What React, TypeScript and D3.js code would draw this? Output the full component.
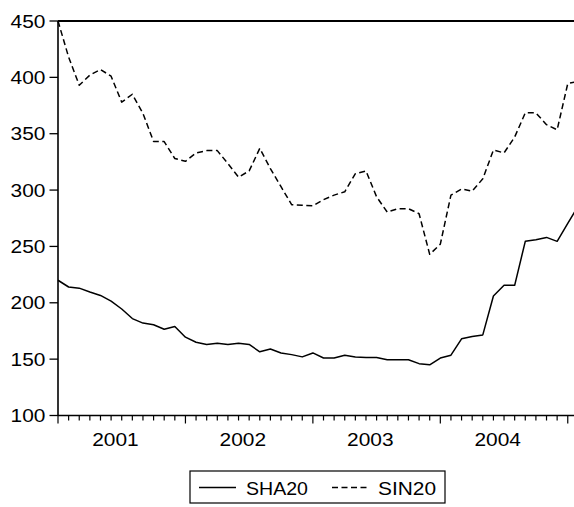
import React from "react";
import * as d3 from "d3";

const YEAR_LABELS = ["2001", "2002", "2003", "2004"];
const Y_TICKS = [100, 150, 200, 250, 300, 350, 400, 450];

// Monthly observations starting 2001M01
const SHA20 = [
  220, 214, 213, 209.5, 206.5, 201.5, 194.5, 186, 182, 180.5, 176.5, 179,
  169.5, 165, 163, 164, 163, 164, 163, 156.5, 159, 155.5, 154, 152,
  155.5, 151, 151, 153.5, 152, 151.5, 151.5, 149.5, 149.5, 149.5, 146, 145,
  151, 153.5, 168, 170, 171.5, 206, 215.5, 215.5, 254.5, 256, 258, 254.5,
  270.5, 286,
];
const SIN20 = [
  450, 418, 393, 402, 407, 401, 378, 385, 368, 343, 343, 328,
  325.5, 333, 335, 335, 323.5, 311.5, 317, 337, 319, 303, 287, 286.5,
  286, 291.5, 295.5, 298.5, 314.5, 317, 294, 280.5, 283.5, 283.5, 279, 243,
  252, 295.5, 301, 299, 310, 335.5, 333, 347, 368.5, 368.5, 358, 353.5,
  394.5, 396.5,
];
const SERIES_NAMES = ["SHA20", "SIN20"];

const W = 574;
const H = 507;
const FONT = "'Liberation Sans', Arial, sans-serif";

function T({ x, y, anchor, children, fs = 19, sx = 1.1 }: any) {
  return (
    <text
      transform={`translate(${x},${y}) scale(${sx},1)`}
      textAnchor={anchor}
      fontFamily={FONT}
      fontSize={fs}
      fill="#000"
    >
      {children}
    </text>
  );
}

export default function App() {
  const left = 58;
  const month = 10.62;
  const n = SHA20.length;
  const x = d3.scaleLinear().domain([0, n - 1]).range([left, left + month * (n - 1)]);
  const y = d3.scaleLinear().domain([100, 450]).range([415.5, 21]);
  const line = d3
    .line<number>()
    .x((_, i) => x(i))
    .y((d) => y(d));

  const ticks = d3.range(0, n);

  return (
    <svg width={W} height={H} style={{ position: "absolute", left: 0, top: 0, background: "#fff" }}>
      <rect x={0} y={0} width={W} height={H} fill="#fff" />
      {/* frame */}
      <line x1={left} x2={W + 10} y1={y(450)} y2={y(450)} stroke="#000" strokeWidth={1.8} />
      <line x1={left} x2={W + 10} y1={y(100)} y2={y(100)} stroke="#000" strokeWidth={1.6} />
      <line x1={left} x2={left} y1={y(450)} y2={y(100)} stroke="#000" strokeWidth={1.6} />
      {/* y ticks */}
      {Y_TICKS.map((t) => (
        <g key={t}>
          <line x1={left - 8.5} x2={left} y1={y(t)} y2={y(t)} stroke="#000" strokeWidth={1.3} />
          <T x={45.5} y={y(t) + 6.6} anchor="end">
            {t}
          </T>
        </g>
      ))}
      {/* x ticks */}
      {ticks.map((i) => (
        <line
          key={i}
          x1={x(i)}
          x2={x(i)}
          y1={y(100)}
          y2={y(100) + (i % 12 === 0 ? 8 : 5)}
          stroke="#000"
          strokeWidth={1.2}
        />
      ))}
      {YEAR_LABELS.map((lab, k) => (
        <T key={lab} x={x(12 * k + 5.5) - 1} y={y(100) + 30} anchor="middle">
          {lab}
        </T>
      ))}
      {/* series */}
      <path d={line(SHA20) || ""} fill="none" stroke="#000" strokeWidth={1.5} strokeLinejoin="round" />
      <path
        d={line(SIN20) || ""}
        fill="none"
        stroke="#000"
        strokeWidth={1.5}
        strokeDasharray="6 3.5"
        strokeLinejoin="round"
      />
      {/* legend */}
      <rect x={190} y={471} width={255} height={32} fill="#fff" stroke="#000" strokeWidth={1.2} />
      <line x1={199} x2={236} y1={487.5} y2={487.5} stroke="#000" strokeWidth={1.3} />
      <T x={246} y={494.5} anchor="start" sx={1.03}>
        {SERIES_NAMES[0]}
      </T>
      <line x1={332} x2={369} y1={487.5} y2={487.5} stroke="#000" strokeWidth={1.3} strokeDasharray="6 3.5" />
      <T x={378} y={494.5} anchor="start" sx={1.1}>
        {SERIES_NAMES[1]}
      </T>
    </svg>
  );
}
